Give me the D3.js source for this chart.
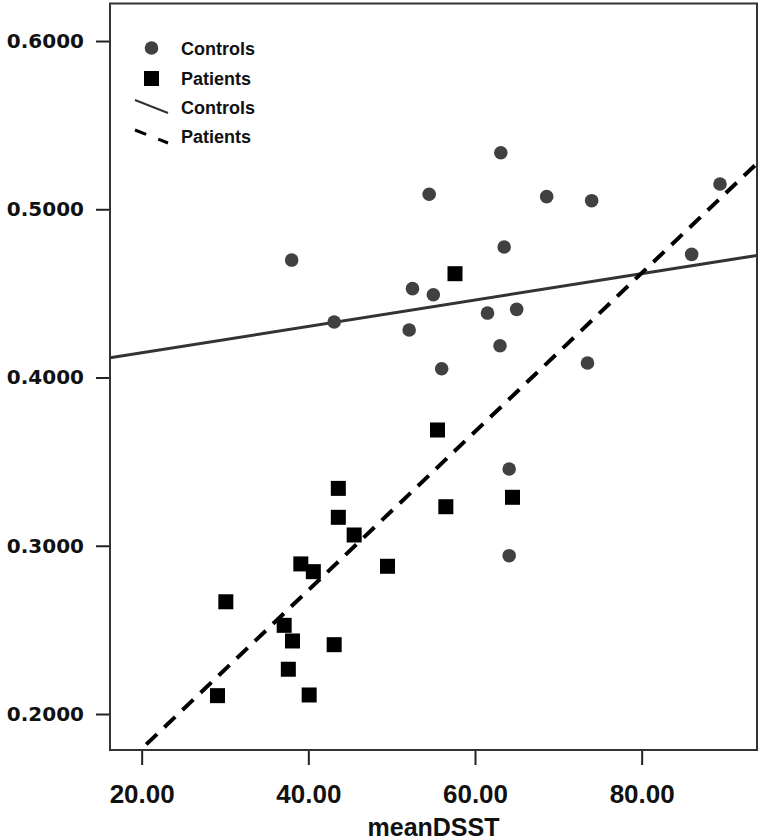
<!DOCTYPE html>
<html lang="en">
    <head>
        <meta charset="utf-8">
        <title>meanDSST scatter</title>
        <script src="https://d3js.org/d3.v7.min.js" charset="utf-8"></script>
        <style>
            body { margin: 0; background: #fff; }
            .ylab { font-family: "DejaVu Sans", Verdana, sans-serif; font-weight: bold; font-size: 20px; fill: #111; }
            .xlab { font-family: "Liberation Sans", Arial, sans-serif; font-weight: bold; font-size: 26px; fill: #111; }
            .leg  { font-family: "Liberation Sans", Arial, sans-serif; font-weight: bold; font-size: 18px; fill: #111; }
        </style>
    </head>
    <body>
        <div id="chart"></div>

        <script type="text/javascript">
            // controls (circles)
            var controlsX = [38.0, 43.1, 52.5, 52.1, 54.5, 55.0, 56.0, 63.1, 63.5, 61.5,
                             63.0, 65.0, 68.6, 74.0, 73.5, 86.0, 89.4, 64.1, 64.1];
            var controlsY = [0.4698, 0.4330, 0.4528, 0.4282, 0.5089, 0.4492, 0.4052, 0.5336, 0.4776, 0.4383,
                             0.4189, 0.4405, 0.5075, 0.5051, 0.4086, 0.4732, 0.5150, 0.3456, 0.2941];

            // patients (squares)
            var patientsX = [55.5, 43.6, 43.6, 45.5, 56.5, 64.5, 39.1, 40.6, 49.5, 30.1,
                             37.1, 38.1, 43.1, 37.6, 29.1, 40.1, 57.6];
            var patientsY = [0.3688, 0.3341, 0.3169, 0.3064, 0.3232, 0.3288, 0.2892, 0.2846, 0.2878, 0.2667,
                             0.2527, 0.2434, 0.2412, 0.2266, 0.2109, 0.2113, 0.4617];

            // fit lines: [intercept, slope]
            var controlsFit = [0.3990, 0.000784];
            var patientsFit = [0.0851, 0.004712];

            var xTicks = [20, 40, 60, 80];
            var yTicks = [0.2, 0.3, 0.4, 0.5, 0.6];
            var xDomain = [16.2, 93.84];
            var yDomain = [0.1786, 0.6223];

            var margin = { top: 3.5, right: 5, bottom: 90, left: 110 },
                width  = 762 - margin.left - margin.right,
                height = 840 - margin.top  - margin.bottom;

            var x = d3.scaleLinear().domain(xDomain).range([0, width]);
            var y = d3.scaleLinear().domain(yDomain).range([height, 0]);

            var svg = d3.select("#chart")
                        .append("svg")
                        .attr("width", 762)
                        .attr("height", 840);

            var g = svg.append("g")
                       .attr("transform", "translate(" + margin.left + "," + margin.top + ")");

            g.append("clipPath").attr("id", "clip")
             .append("rect").attr("width", width).attr("height", height);

            // axes
            var yAxis = d3.axisLeft(y).tickValues(yTicks).tickSize(14).tickPadding(12)
                          .tickFormat(d3.format(".4f"));
            var xAxis = d3.axisBottom(x).tickValues(xTicks).tickSize(15).tickPadding(20)
                          .tickFormat(d3.format(".2f"));

            var ya = g.append("g").call(yAxis);
            ya.select(".domain").remove();
            ya.selectAll("line").attr("stroke", "#222").attr("stroke-width", 2);
            ya.selectAll("text").attr("class", "ylab").attr("x", -26);

            var xa = g.append("g").attr("transform", "translate(0," + height + ")").call(xAxis);
            xa.select(".domain").remove();
            xa.selectAll("line").attr("stroke", "#222").attr("stroke-width", 2);
            xa.selectAll("text").attr("class", "xlab");

            g.append("text")
             .attr("class", "xlab")
             .attr("x", width / 2)
             .attr("y", height + 86)
             .attr("text-anchor", "middle")
             .style("font-size", "25px")
             .text("meanDSST");

            // fit lines
            var line = d3.line().x(function(d) { return x(d); });
            var plot = g.append("g").attr("clip-path", "url(#clip)");

            plot.append("path")
                .datum(xDomain)
                .attr("fill", "none")
                .attr("stroke", "#333")
                .attr("stroke-width", 3)
                .attr("d", line.y(function(d) { return y(controlsFit[0] + controlsFit[1] * d); }));

            plot.append("path")
                .datum(xDomain)
                .attr("fill", "none")
                .attr("stroke", "#000")
                .attr("stroke-width", 4)
                .attr("stroke-dasharray", "15,10")
                .attr("d", line.y(function(d) { return y(patientsFit[0] + patientsFit[1] * d); }));

            // points
            plot.selectAll(".ctrl")
                .data(controlsX)
                .enter().append("circle")
                .attr("class", "ctrl")
                .attr("cx", function(d) { return x(d); })
                .attr("cy", function(d, i) { return y(controlsY[i]); })
                .attr("r", 6.8)
                .attr("fill", "#414141");

            var sq = 15;
            plot.selectAll(".pat")
                .data(patientsX)
                .enter().append("rect")
                .attr("class", "pat")
                .attr("x", function(d) { return x(d) - sq / 2; })
                .attr("y", function(d, i) { return y(patientsY[i]) - sq / 2; })
                .attr("width", sq)
                .attr("height", sq)
                .attr("fill", "#000");

            // frame
            g.append("rect")
             .attr("width", width)
             .attr("height", height)
             .attr("fill", "none")
             .attr("stroke", "#333")
             .attr("stroke-width", 2);

            // legend
            var leg = svg.append("g");
            leg.append("circle").attr("cx", 151.5).attr("cy", 48).attr("r", 6.8).attr("fill", "#414141");
            leg.append("rect").attr("x", 144).attr("y", 71).attr("width", sq).attr("height", sq).attr("fill", "#000");
            leg.append("line").attr("x1", 135).attr("y1", 100).attr("x2", 168).attr("y2", 113)
               .attr("stroke", "#333").attr("stroke-width", 2);
            leg.append("line").attr("x1", 135).attr("y1", 130).attr("x2", 168).attr("y2", 143)
               .attr("stroke", "#000").attr("stroke-width", 3).attr("stroke-dasharray", "12,13");

            var legText = ["Controls", "Patients", "Controls", "Patients"];
            var legY = [49, 79, 108, 137];
            leg.selectAll(".legt")
               .data(legText)
               .enter().append("text")
               .attr("class", "leg")
               .attr("x", 181)
               .attr("y", function(d, i) { return legY[i]; })
               .attr("dy", "0.35em")
               .text(function(d) { return d; });
        </script>
    </body>
</html>
